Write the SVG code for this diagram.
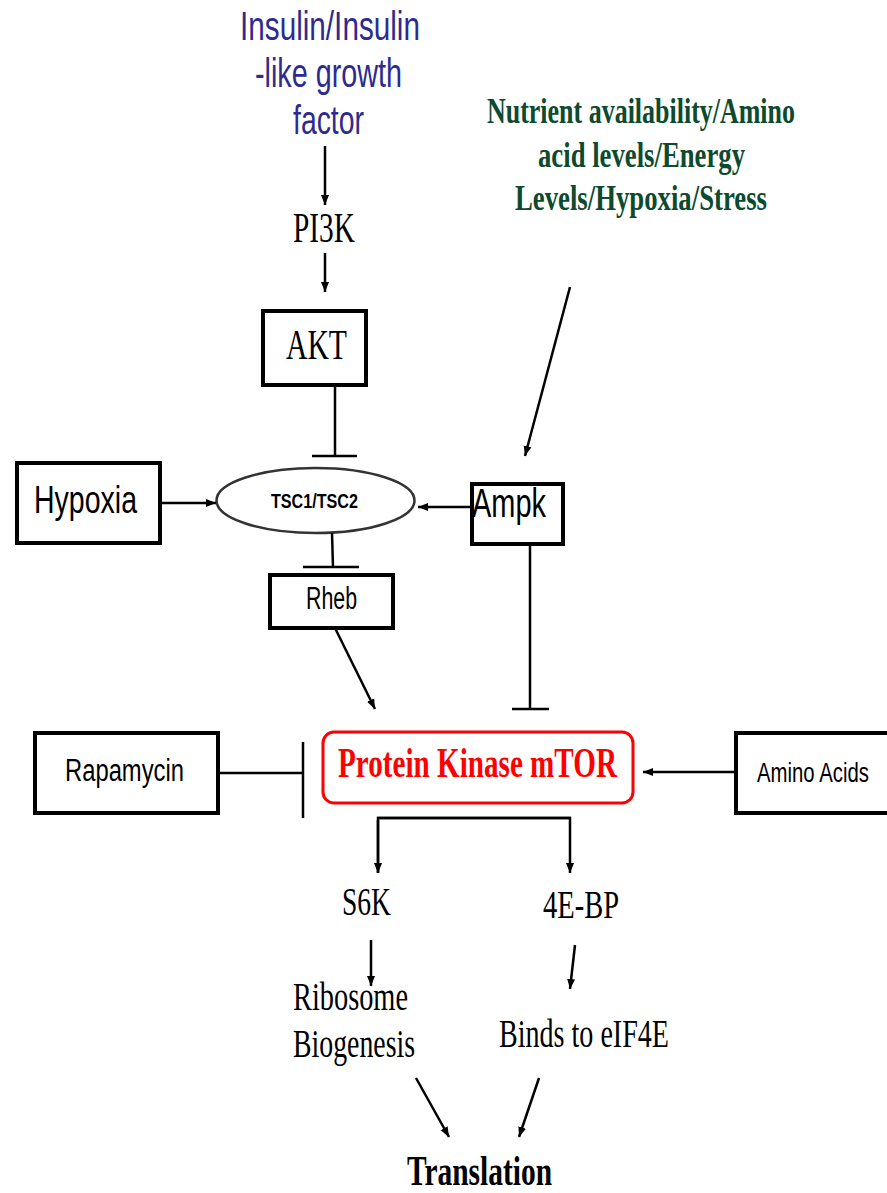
<svg xmlns="http://www.w3.org/2000/svg" width="887" height="1193" viewBox="0 0 887 1193">
<defs>
<marker id="arr" markerUnits="userSpaceOnUse" markerWidth="10" markerHeight="10" viewBox="0 0 10 10" refX="10" refY="5" orient="auto">
<path d="M0,1 L10,5 L0,9 Z" fill="#000"/>
</marker>
<style>
.box{fill:#fff;stroke:#000;stroke-width:4}
.ln{stroke:#000;stroke-width:2.5;fill:none}
.sans{font-family:"Liberation Sans",Arial,sans-serif;fill:#000}
.serif{font-family:"Liberation Serif","Times New Roman",serif;fill:#000}
.ins{font-family:"Liberation Sans",Arial,sans-serif;fill:#2e2a8f;font-size:40px}
.nut{font-family:"Liberation Serif","Times New Roman",serif;fill:#0d4a2e;font-size:36px;font-weight:bold}
</style>
</defs>
<rect width="887" height="1193" fill="#fff"/>

<g id="insulin">
<text class="ins" x="240" y="40" textLength="180" lengthAdjust="spacingAndGlyphs">Insulin/Insulin</text>
<text class="ins" x="255" y="87" textLength="147" lengthAdjust="spacingAndGlyphs">-like growth</text>
<text class="ins" x="293" y="134" textLength="71" lengthAdjust="spacingAndGlyphs">factor</text>
</g>
<g id="nutrient">
<text class="nut" transform="translate(487,123) scale(0.72,1)" x="0" y="0" textLength="427.8" lengthAdjust="spacingAndGlyphs">Nutrient availability/Amino</text>
<text class="nut" transform="translate(538,167) scale(0.72,1)" x="0" y="0" textLength="287.5" lengthAdjust="spacingAndGlyphs">acid levels/Energy</text>
<text class="nut" transform="translate(515,210) scale(0.72,1)" x="0" y="0" textLength="350" lengthAdjust="spacingAndGlyphs">Levels/Hypoxia/Stress</text>
</g>
<g id="pi3k">
<text class="serif" x="293" y="242" font-size="42" textLength="62" lengthAdjust="spacingAndGlyphs">PI3K</text>
</g>
<g id="akt">
<rect class="box" x="263" y="311" width="103" height="74" stroke-width="3"/>
<text class="serif" x="286" y="359" font-size="42" textLength="61" lengthAdjust="spacingAndGlyphs">AKT</text>
</g>
<g id="hypoxia">
<rect class="box" x="17" y="463" width="143" height="80"/>
<text class="sans" x="34" y="513" font-size="38" textLength="103" lengthAdjust="spacingAndGlyphs">Hypoxia</text>
</g>
<g id="tsc">
<ellipse cx="315.5" cy="500.5" rx="99" ry="32.5" fill="#fff" stroke="#333" stroke-width="2.5"/>
<text class="sans" x="271" y="508" font-size="21" font-weight="bold" textLength="87" lengthAdjust="spacingAndGlyphs">TSC1/TSC2</text>
</g>
<g id="ampk">
<rect class="box" x="472" y="484" width="91" height="60" stroke-width="3"/>
<text class="sans" x="472" y="517" font-size="40" textLength="74" lengthAdjust="spacingAndGlyphs">Ampk</text>
</g>
<g id="rheb">
<rect class="box" x="270" y="575" width="123" height="53" stroke-width="3"/>
<text class="sans" x="306" y="609" font-size="31" textLength="51" lengthAdjust="spacingAndGlyphs">Rheb</text>
</g>
<g id="rapamycin">
<rect class="box" x="35" y="733" width="183" height="80"/>
<text class="sans" x="65" y="781" font-size="31" textLength="119" lengthAdjust="spacingAndGlyphs">Rapamycin</text>
</g>
<g id="mtor">
<rect x="323" y="732" width="310" height="71" rx="11" fill="#fff" stroke="#f00" stroke-width="3"/>
<text class="serif" x="338" y="777" font-size="42" font-weight="bold" style="fill:#f00" textLength="279" lengthAdjust="spacingAndGlyphs">Protein Kinase mTOR</text>
</g>
<g id="aminoacids">
<rect class="box" x="736" y="733" width="160" height="80"/>
<text class="sans" transform="translate(757,782) scale(0.75,1)" x="0" y="0" font-size="27" textLength="149.3" lengthAdjust="spacingAndGlyphs">Amino Acids</text>
</g>
<g id="s6k">
<text class="serif" x="342" y="915" font-size="41" textLength="49" lengthAdjust="spacingAndGlyphs">S6K</text>
</g>
<g id="4ebp">
<text class="serif" x="543" y="918" font-size="41" textLength="76" lengthAdjust="spacingAndGlyphs">4E-BP</text>
</g>
<g id="ribosome">
<text class="serif" x="293" y="1010" font-size="41" textLength="115" lengthAdjust="spacingAndGlyphs">Ribosome</text>
<text class="serif" x="293" y="1057" font-size="41" textLength="122" lengthAdjust="spacingAndGlyphs">Biogenesis</text>
</g>
<g id="binds">
<text class="serif" x="499" y="1047" font-size="41" textLength="170" lengthAdjust="spacingAndGlyphs">Binds to eIF4E</text>
</g>
<g id="translation">
<text class="serif" x="407" y="1185" font-size="43" font-weight="bold" textLength="145" lengthAdjust="spacingAndGlyphs">Translation</text>
</g>

<g id="connectors">
<line class="ln" x1="325" y1="146" x2="325" y2="205" marker-end="url(#arr)"/>
<line class="ln" x1="325" y1="253" x2="325" y2="292" stroke-width="2" marker-end="url(#arr)"/>
<line class="ln" x1="335" y1="385" x2="335" y2="456"/>
<line class="ln" x1="312" y1="456" x2="357" y2="456" stroke-width="3"/>
<line class="ln" x1="160" y1="503" x2="216" y2="503" stroke-width="3" marker-end="url(#arr)"/>
<line class="ln" x1="472" y1="507" x2="418" y2="507" stroke-width="3" marker-end="url(#arr)"/>
<line class="ln" x1="570" y1="287" x2="525" y2="456" stroke-width="2" marker-end="url(#arr)"/>
<line class="ln" x1="530" y1="544" x2="530" y2="708" stroke="#555" stroke-width="3"/>
<line class="ln" x1="512" y1="709" x2="549" y2="709" stroke-width="3.5"/>
<line class="ln" x1="332" y1="533" x2="333" y2="567" stroke="#444"/>
<line class="ln" x1="303" y1="567" x2="359" y2="567" stroke-width="3"/>
<line class="ln" x1="335" y1="628" x2="375" y2="709" marker-end="url(#arr)"/>
<line class="ln" x1="218" y1="773" x2="303" y2="773" stroke="#555" stroke-width="5"/>
<line class="ln" x1="303" y1="742" x2="303" y2="818" stroke-width="2"/>
<line class="ln" x1="736" y1="772" x2="643" y2="772" stroke="#333" stroke-width="3" marker-end="url(#arr)"/>
<polyline class="ln" points="378,873 378,818 570,818 570,873" stroke-width="2.5" marker-end="url(#arr)"/>
<line class="ln" x1="377" y1="818" x2="571" y2="818" stroke-width="5"/>
<line class="ln" x1="378" y1="820" x2="378" y2="873" marker-end="url(#arr)"/>
<line class="ln" x1="371" y1="940" x2="371" y2="986" stroke-width="2" marker-end="url(#arr)"/>
<line class="ln" x1="575" y1="945" x2="570" y2="989" stroke-width="2" marker-end="url(#arr)"/>
<line class="ln" x1="416" y1="1078" x2="449" y2="1137" stroke-width="2" marker-end="url(#arr)"/>
<line class="ln" x1="539" y1="1078" x2="519" y2="1137" stroke-width="2" marker-end="url(#arr)"/>
</g>
</svg>
